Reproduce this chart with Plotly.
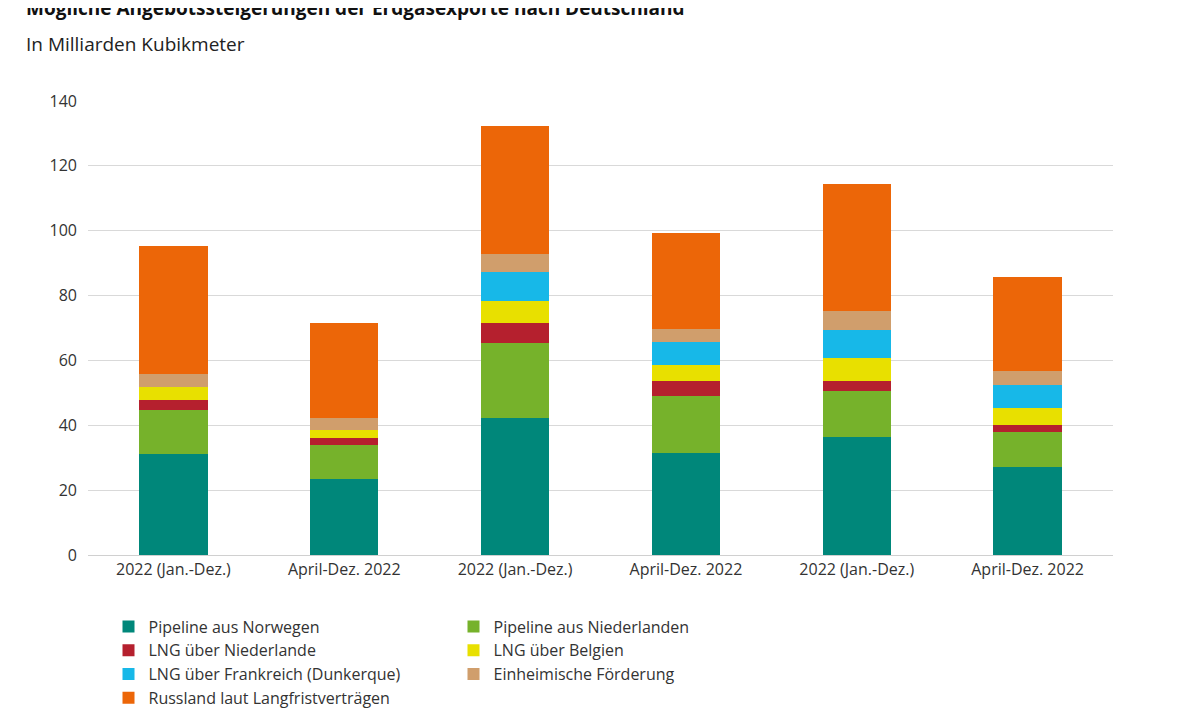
import plotly.graph_objects as go

categories = ["2022 (Jan.-Dez.)", "April-Dez. 2022", "2022 (Jan.-Dez.)",
              "April-Dez. 2022", "2022 (Jan.-Dez.)", "April-Dez. 2022"]

norwegen = [31.0, 23.3, 42.1, 31.6, 36.4, 27.1]
niederlande = [13.6, 10.5, 23.3, 17.5, 14.3, 10.8]
lng_nl = [3.2, 2.2, 6.0, 4.5, 2.9, 2.3]
lng_be = [3.9, 2.6, 7.0, 5.1, 7.0, 5.1]
lng_fr = [0, 0, 9.0, 7.0, 8.9, 7.0]
einheimisch = [4.1, 3.5, 5.4, 4.1, 5.8, 4.5]
russland = [39.5, 29.3, 39.5, 29.4, 39.2, 29.0]

series = [
    ("Pipeline aus Norwegen", norwegen, "#00877a"),
    ("Pipeline aus Niederlanden", niederlande, "#76b22b"),
    ("LNG über Niederlande", lng_nl, "#b5202e"),
    ("LNG über Belgien", lng_be, "#e8e000"),
    ("LNG über Frankreich (Dunkerque)", lng_fr, "#17b8e8"),
    ("Einheimische Förderung", einheimisch, "#d09e6c"),
    ("Russland laut Langfristverträgen", russland, "#ec6608"),
]

x = list(range(len(categories)))
fig = go.Figure()
for name, vals, color in series:
    fig.add_trace(go.Bar(x=x, y=vals, name=name, marker_color=color,
                         marker_line_width=0))

fig.add_annotation(text="<b>Mögliche Angebotssteigerungen der Erdgasexporte nach Deutschland</b>",
                   xref="paper", yref="paper", x=-0.062, y=1.205, xanchor="left",
                   yanchor="middle", showarrow=False, font=dict(size=19, color="#111"))
fig.add_annotation(text="In Milliarden Kubikmeter",
                   xref="paper", yref="paper", x=-0.062, y=1.125, xanchor="left",
                   yanchor="middle", showarrow=False, font=dict(size=19, color="#222"))

fig.update_layout(
    barmode="stack", bargap=0.6,
    width=1200, height=724,
    paper_bgcolor="white", plot_bgcolor="white",
    font=dict(family="Open Sans, Noto Sans, sans-serif", size=16, color="#333"),
    margin=dict(l=80, r=95, t=93, b=177),
    xaxis=dict(tickmode="array", tickvals=x, ticktext=categories,
               showline=True, linecolor="#d0d0d0", ticks=""),
    yaxis=dict(range=[0, 140], dtick=20, gridcolor="#d9d9d9", zeroline=False,
               ticks="", ticklabelstandoff=10),
    legend=dict(orientation="h", x=0.02, y=-0.12, xanchor="left", yanchor="top",
                entrywidth=300, entrywidthmode="pixels", traceorder="normal",
                font=dict(size=16), tracegroupgap=10),
)

fig.write_html("out.html")
